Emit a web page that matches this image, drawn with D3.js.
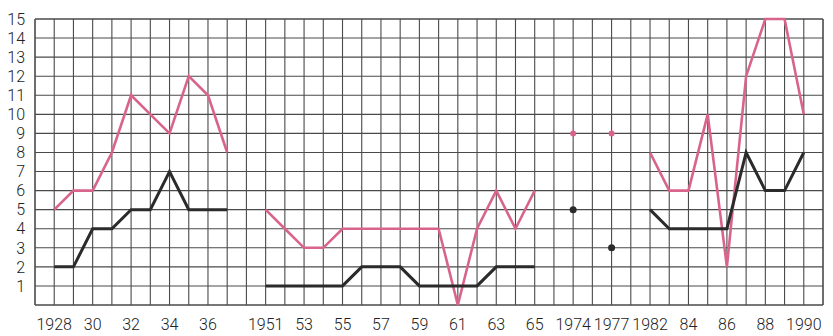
<!DOCTYPE html>
<html><head><meta charset="utf-8">
<script src="https://cdn.jsdelivr.net/npm/d3@7"></script>
<style>
html,body{margin:0;padding:0;background:#fff;}
svg{display:block;}
text{font-family:Roboto,"DejaVu Sans Condensed",sans-serif;font-weight:300;fill:#222;}
</style></head>
<body><svg id="c" width="833" height="336"></svg>
<script>
// column slots (0 = left border, 41 = right border); each slot is one year
const slotYears = [null,1928,1929,1930,1931,1932,1933,1934,1935,1936,1937,null,
  1951,1952,1953,1954,1955,1956,1957,1958,1959,1960,1961,1962,1963,1964,1965,null,
  1974,null,1977,null,1982,1983,1984,1985,1986,1987,1988,1989,1990];
const tickLabels = [
  {year:1928,label:"1928"},{year:1930,label:"30"},{year:1932,label:"32"},{year:1934,label:"34"},{year:1936,label:"36"},
  {year:1951,label:"1951"},{year:1953,label:"53"},{year:1955,label:"55"},{year:1957,label:"57"},{year:1959,label:"59"},
  {year:1961,label:"61"},{year:1963,label:"63"},{year:1965,label:"65"},
  {year:1974,label:"1974"},{year:1977,label:"1977"},
  {year:1982,label:"1982"},{year:1984,label:"84"},{year:1986,label:"86"},{year:1988,label:"88"},{year:1990,label:"1990"}];
const yTicks = [1,2,3,4,5,6,7,8,9,10,11,12,13,14,15];

// series: pink and black, split into periods
const years1 = [1928,1929,1930,1931,1932,1933,1934,1935,1936,1937];
const pink1  = [5,6,6,8,11,10,9,12,11,8];
const black1 = [2,2,4,4,5,5,7,5,5,5];
const years2 = [1951,1952,1953,1954,1955,1956,1957,1958,1959,1960,1961,1962,1963,1964,1965];
const pink2  = [5,4,3,3,4,4,4,4,4,4,0,4,6,4,6];
const black2 = [1,1,1,1,1,2,2,2,1,1,1,1,2,2,2];
const years3 = [1974,1977];
const pink3  = [9,9];
const black3 = [5,3];
const years4 = [1982,1983,1984,1985,1986,1987,1988,1989,1990];
const pink4  = [8,6,6,10,2,12,15,15,10];
const black4 = [5,4,4,4,4,8,6,6,8];

const PINK = "#d9648a", BLACK = "#2b2b2b";
const svg = d3.select("#c");
const mLeft = 35, mRight = 823, mTop = 19, mBottom = 305;
const nSlots = 41;
const xs = d3.scaleLinear().domain([0,nSlots]).range([mLeft,mRight]);
const slotOf = yr => slotYears.indexOf(yr);
const x = yr => xs(slotOf(yr));
const y = d3.scaleLinear().domain([0,15]).range([mBottom,mTop]);

const g = svg.append("g");
// grid
g.selectAll("line.v").data(d3.range(0,nSlots+1)).join("line")
  .attr("x1",d=>xs(d)).attr("x2",d=>xs(d)).attr("y1",mTop).attr("y2",mBottom)
  .attr("stroke","#4a4a4a").attr("stroke-width",d=>(d===0||d===nSlots)?1.6:1.1);
g.selectAll("line.h").data(d3.range(0,16)).join("line")
  .attr("x1",mLeft).attr("x2",mRight).attr("y1",d=>y(d)).attr("y2",d=>y(d))
  .attr("stroke","#4a4a4a").attr("stroke-width",d=>(d===0||d===15)?1.6:1.1);

// y labels
svg.selectAll("text.yl").data(yTicks).join("text")
  .attr("x",25).attr("y",d=>y(d)).attr("dy","0.36em").attr("text-anchor","end")
  .attr("font-size",16).text(d=>d);
// x labels
svg.selectAll("text.xl").data(tickLabels).join("text")
  .attr("x",d=>x(d.year)).attr("y",330).attr("text-anchor","middle")
  .attr("font-size",16).text(d=>d.label);

const line = d3.line().x(d=>x(d[0])).y(d=>y(d[1])).curve(d3.curveLinear);
function draw(years, vals, color, w){
  svg.append("path").datum(years.map((yr,i)=>[yr,vals[i]]))
    .attr("d",line).attr("fill","none").attr("stroke",color).attr("stroke-width",w)
    .attr("stroke-linejoin","miter").attr("stroke-linecap","butt");
}
draw(years1,pink1,PINK,2.6); draw(years1,black1,BLACK,3);
draw(years2,pink2,PINK,2.6); draw(years2,black2,BLACK,3);
draw(years4,pink4,PINK,2.6); draw(years4,black4,BLACK,3);
svg.selectAll("circle.p").data(years3).join("circle")
  .attr("cx",d=>x(d)).attr("cy",(d,i)=>y(pink3[i])).attr("r",3).attr("fill",PINK);
svg.selectAll("circle.b").data(years3).join("circle")
  .attr("cx",d=>x(d)).attr("cy",(d,i)=>y(black3[i])).attr("r",3.5).attr("fill",BLACK);
</script></body></html>
